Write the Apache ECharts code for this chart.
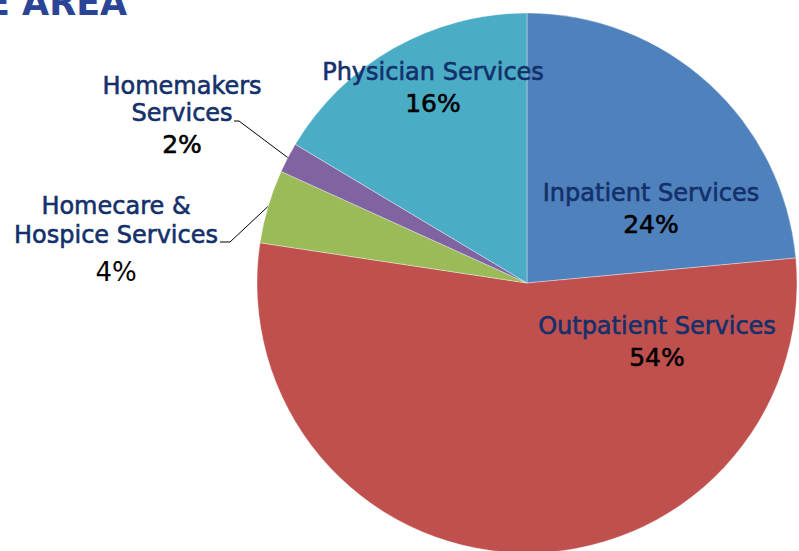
<!DOCTYPE html>
<html>
<head>
<meta charset="utf-8">
<script src="https://cdn.jsdelivr.net/npm/echarts@6/dist/echarts.min.js"></script>
<style>html,body{margin:0;padding:0;background:#fff;}#c{width:799px;height:551px;}</style>
</head>
<body>
<div id="c"></div>
<script>
const categories = ['Inpatient Services', 'Outpatient Services', 'Homecare &\nHospice Services', 'Homemakers\nServices', 'Physician Services'];
const values = [23.5, 53.8, 4.4, 1.8, 16.4];
const colors = ['#4F81BD', '#C0504D', '#9BBB59', '#8064A2', '#4BACC6'];
const titleText = 'E AREA';

// label anchor positions (center-top of each label block)
const labelSpots = [
  { x: 651, y: 179 },
  { x: 657, y: 312 },
  { x: 116, y: 191, line: [[230, 242], [220, 242]], light: true },
  { x: 182, y: 72, line: [[239, 121], [234, 121]] },
  { x: 433, y: 58 }
];

const chart = echarts.init(document.getElementById('c'), null, { renderer: 'svg' });
const FONT = '"DejaVu Sans", sans-serif';
chart.setOption({
  animation: false,
  graphic: [{
    type: 'text', left: -14, top: -15,
    style: { text: titleText, font: 'bold 35px ' + FONT, fill: '#2B4596' }
  }],
  series: [{
    type: 'pie',
    center: [527, 283],
    radius: 270,
    startAngle: 90,
    clockwise: true,
    percentPrecision: 0,
    itemStyle: { borderColor: 'rgba(255,255,255,0.6)', borderWidth: 0.6 },
    data: categories.map((n, i) => ({
      name: n, value: values[i],
      itemStyle: { color: colors[i] },
      label: { position: labelSpots[i].line ? 'outside' : 'inside' },
      labelLine: { show: !!labelSpots[i].line, lineStyle: { color: '#000', width: 1 } }
    })),
    label: {
      show: true,
      formatter: p => {
        const light = labelSpots[p.dataIndex].light;
        const ns = light ? 'm' : 'n';
        return '{' + ns + '|' + p.name.split('\n').join('}\n{' + ns + '|') + '}\n{' + (light ? 'q' : 'p') + '|' + p.percent + '%}';
      },
      align: 'center',
      rich: {
        n: { fontFamily: FONT, fontWeight: 'normal', fontSize: 24, color: '#14306B', lineHeight: 27, align: 'center', textBorderColor: '#14306B', textBorderWidth: 0.6 },
        m: { fontFamily: FONT, fontWeight: 'normal', fontSize: 24, color: '#14306B', lineHeight: 29, align: 'center', textBorderColor: '#14306B', textBorderWidth: 0.6 },
        p: { fontFamily: FONT, fontWeight: 'normal', fontSize: 25, color: '#000', lineHeight: 36, align: 'center', textBorderColor: '#000', textBorderWidth: 0.6 },
        q: { fontFamily: FONT, fontWeight: 'normal', fontSize: 26, color: '#000', lineHeight: 45, align: 'center' }
      }
    },
    labelLayout: function (params) {
      const s = labelSpots[params.dataIndex];
      const out = { x: s.x, y: s.y, align: 'center', verticalAlign: 'top' };
      if (s.line && params.labelLinePoints) {
        out.labelLinePoints = [params.labelLinePoints[0], s.line[0], s.line[1]];
      }
      return out;
    }
  }]
});
</script>
</body>
</html>
